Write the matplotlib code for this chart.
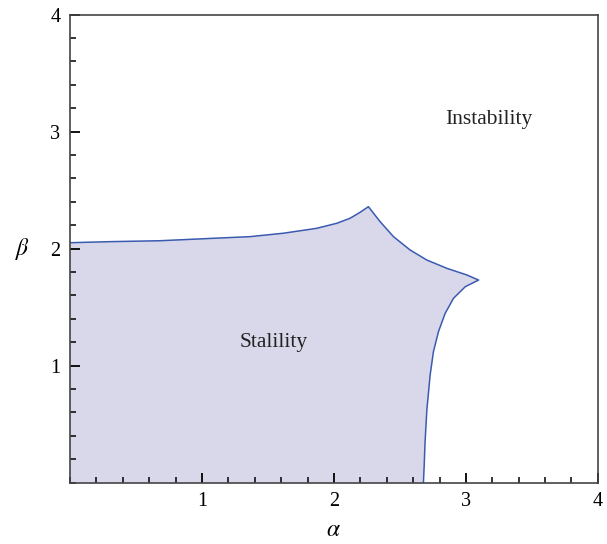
import matplotlib.pyplot as plt
from matplotlib.ticker import MultipleLocator

# stability boundary (upper branch, cusp, lower branch)
alpha = [0.0, 0.30, 0.681, 1.187, 1.364, 1.616, 1.869, 2.021, 2.122, 2.198, 2.261,
         2.350, 2.451, 2.577, 2.704, 2.856, 3.008, 3.096,
         2.995, 2.906, 2.843, 2.792, 2.754, 2.729, 2.704, 2.690, 2.684, 2.678]
beta = [2.051, 2.060, 2.068, 2.094, 2.103, 2.132, 2.174, 2.217, 2.260, 2.311, 2.359,
        2.231, 2.103, 1.989, 1.903, 1.832, 1.775, 1.732,
        1.675, 1.576, 1.448, 1.291, 1.120, 0.921, 0.621, 0.337, 0.151, 0.0]

x_ticks = [1, 2, 3, 4]
y_ticks = [1, 2, 3, 4]

plt.rcParams['font.family'] = ['Liberation Serif', 'DejaVu Serif']
plt.rcParams['mathtext.fontset'] = 'stix'

fig = plt.figure(figsize=(6.07, 5.44), dpi=100)
ax = fig.add_axes([0.1153, 0.1127, 0.8697, 0.8603])

line_c = '#3b5bb0'
fill_c = '#d8d8ea'

ax.fill([0.0] + alpha, [0.0] + beta, color=fill_c, lw=0)
ax.plot(alpha, beta, color=line_c, lw=1.1)

ax.set_xlim(0, 4)
ax.set_ylim(0, 4)
ax.set_xticks(x_ticks)
ax.set_yticks(y_ticks)
ax.xaxis.set_minor_locator(MultipleLocator(0.2))
ax.yaxis.set_minor_locator(MultipleLocator(0.2))
ax.tick_params(which='major', direction='in', length=7, width=1.3, labelsize=14.5,
               top=False, right=False, pad=7)
ax.tick_params(which='minor', direction='in', length=4, width=1.1,
               top=False, right=False)
for s in ax.spines.values():
    s.set_color('#444444')
    s.set_linewidth(1.2)

ax.set_xlabel(r'$\alpha$', fontsize=17, labelpad=6)
ax.set_ylabel(r'$\beta$', fontsize=17, rotation=0)
ax.yaxis.set_label_coords(-0.09, 0.5)
ax.yaxis.label.set_va('center')

ax.text(3.17, 3.1, 'Instability', fontsize=15.5, ha='center', va='center', color='#222222')
ax.text(1.54, 1.2, 'Stalility', fontsize=15.5, ha='center', va='center', color='#222222')

fig.savefig('out.png', dpi=100)
